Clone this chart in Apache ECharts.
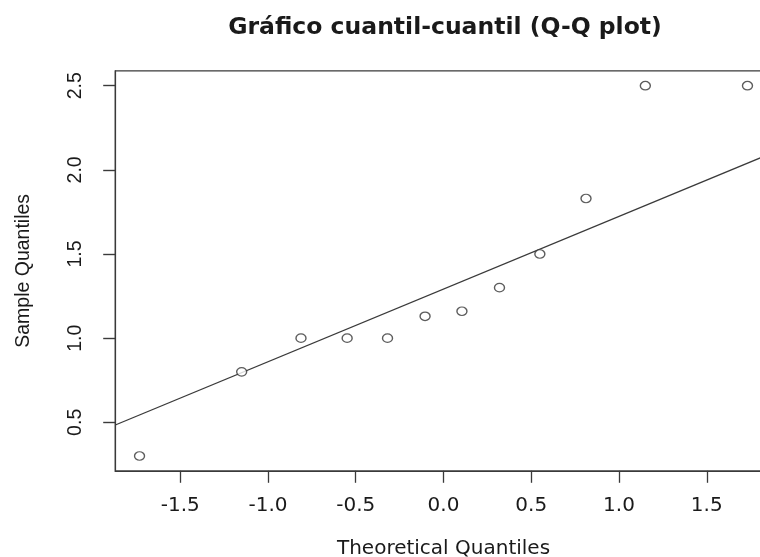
<!DOCTYPE html>
<html>
<head>
<meta charset="utf-8">
<script src="https://cdn.jsdelivr.net/npm/echarts@6/dist/echarts.min.js"></script>
<style>
html,body{margin:0;padding:0;background:#fff;}
#chart{width:760px;height:557px;}
</style>
</head>
<body>
<div id="chart"></div>
<script>
// Theoretical quantiles (x) and sample quantiles (y)
var theoretical = [-1.732, -1.150, -0.812, -0.549, -0.319, -0.105, 0.105, 0.319, 0.549, 0.812, 1.150, 1.732];
var sample = [0.30, 0.80, 1.00, 1.00, 1.00, 1.13, 1.16, 1.30, 1.50, 1.83, 2.50, 2.50];
// Reference line (qqline) end points
var lineX = [-1.87, 1.87];
var lineY = [0.484, 2.099];
// Tick labels
var xTicks = [-1.5, -1.0, -0.5, 0.0, 0.5, 1.0, 1.5];
var yTicks = [0.5, 1.0, 1.5, 2.0, 2.5];

var points = theoretical.map(function (x, i) { return [x, sample[i]]; });
var linePts = lineX.map(function (x, i) { return [x, lineY[i]]; });

var chart = echarts.init(document.getElementById('chart'), null, {renderer: 'canvas'});
var txt = '#1a1a1a';
var axisColor = '#3a3a3a';
chart.setOption({
  backgroundColor: '#ffffff',
  animation: false,
  title: {
    text: 'Gráfico cuantil-cuantil (Q-Q plot)',
    left: 440, top: 11, textAlign: 'center',
    textStyle: {fontFamily: 'DejaVu Sans', fontWeight: 'bold', fontSize: 23.5, color: txt}
  },
  grid: {
    left: 115.2, top: 70.9, width: 656.6, height: 399.9,
    outerBoundsMode: 'none', containLabel: false,
    show: true, borderColor: axisColor, borderWidth: 1.2, backgroundColor: 'transparent'
  },
  xAxis: {
    type: 'value', min: -1.8706, max: 1.8706, position: 'bottom',
    name: 'Theoretical Quantiles', nameLocation: 'middle', nameGap: 68,
    nameTextStyle: {fontFamily: 'DejaVu Sans', fontSize: 20, color: txt},
    axisLine: {show: true, onZero: false, lineStyle: {color: axisColor, width: 1.2}},
    axisTick: {show: true, customValues: xTicks, length: 12, lineStyle: {color: axisColor, width: 1.3}},
    axisLabel: {customValues: xTicks, margin: 25, fontFamily: 'DejaVu Sans', fontSize: 20, color: txt,
      formatter: function (v) { return v.toFixed(1); }},
    splitLine: {show: false}
  },
  yAxis: {
    type: 'value', min: 0.212, max: 2.588, position: 'left',
    name: 'Sample Quantiles', nameLocation: 'middle', nameGap: 82,
    nameTextStyle: {fontFamily: 'Liberation Sans', fontSize: 19.5, color: txt},
    axisLine: {show: true, onZero: false, lineStyle: {color: axisColor, width: 1.2}},
    axisTick: {show: true, inside: false, customValues: yTicks, length: 12, lineStyle: {color: axisColor, width: 1.4}},
    axisLabel: {customValues: yTicks, rotate: 90, margin: 30, fontFamily: 'Liberation Sans', fontSize: 19.5, color: txt,
      formatter: function (v) { return v.toFixed(1); }},
    splitLine: {show: false}
  },
  series: [
    {
      type: 'line', data: linePts, symbol: 'none', silent: true,
      lineStyle: {color: axisColor, width: 1.3}, z: 2
    },
    {
      type: 'scatter', data: points, symbol: 'circle', symbolSize: [10, 8.5],
      itemStyle: {color: '#ffffff', borderColor: '#333333', borderWidth: 1.3}, z: 3
    }
  ]
});
</script>
</body>
</html>
